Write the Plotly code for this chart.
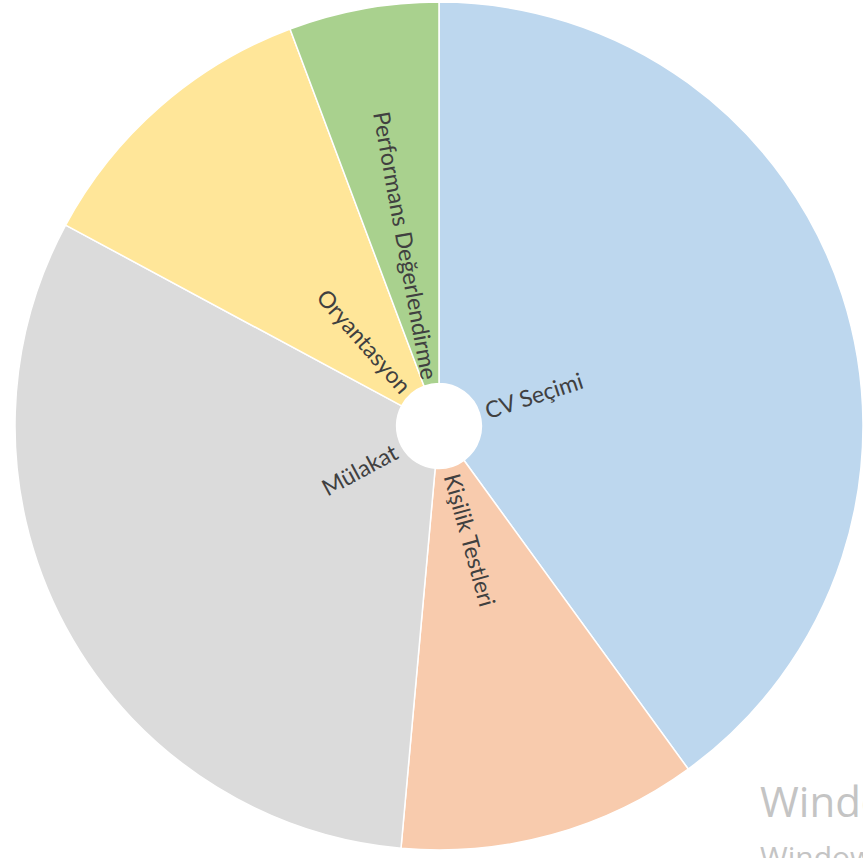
import math
import plotly.graph_objects as go

# Survey answers: which step of the hiring process is used
labels = ["CV Seçimi", "Kişilik Testleri", "Mülakat", "Oryantasyon", "Performans Değerlendirme"]
values = [14, 4, 11, 4, 2]
colors = ["#BDD7EE", "#F8CBAD", "#DBDBDB", "#FFE699", "#A9D18E"]

W, H = 863, 858
M_L, M_R, M_T, M_B = 15, 0, 2, 8
PW, PH = W - M_L - M_R, H - M_T - M_B
RADIUS = min(PW, PH) / 2
CX, CY = M_L + PW / 2, M_T + PH / 2
HOLE = 0.10
LABEL_FS = 23

# Approximate Lato advance widths (in em) used to centre the radial labels
_NARROW = {"i": 0.24, "l": 0.24, "ı": 0.24, " ": 0.25, "t": 0.35, "f": 0.32, "r": 0.37,
           "s": 0.42, "ş": 0.42, "c": 0.46, "ç": 0.46, "m": 0.83, "M": 0.85, "O": 0.75,
           "D": 0.72, "C": 0.65, "V": 0.67, "K": 0.63, "P": 0.58, "T": 0.55, "S": 0.5}


def text_width(s, size):
    return sum(_NARROW.get(ch, 0.52) for ch in s) * size


fig = go.Figure(
    go.Pie(
        labels=labels,
        values=values,
        hole=HOLE,
        sort=False,
        direction="clockwise",
        rotation=0,
        marker=dict(colors=colors, line=dict(color="white", width=1.5)),
        textinfo="none",
        hoverinfo="label+value+percent",
        showlegend=False,
    )
)


def to_paper(px, py):
    return (px - M_L) / PW, (H - M_B - py) / PH


# Radial labels starting just outside the hole
total = sum(values)
cum = 0.0
r_in = RADIUS * HOLE + 7
for lab, v in zip(labels, values):
    mid = (cum + v / 2) / total * 360.0
    cum += v
    rc = r_in + text_width(lab, LABEL_FS) / 2
    rad = math.radians(mid)
    px = CX + rc * math.sin(rad)
    py = CY - rc * math.cos(rad)
    ang = mid - 90 if mid <= 180 else mid - 270
    xp, yp = to_paper(px, py)
    fig.add_annotation(
        x=xp, y=yp, xref="paper", yref="paper",
        text=lab, showarrow=False, textangle=ang,
        xanchor="center", yanchor="middle",
        font=dict(family="Lato", size=LABEL_FS, color="#404040"),
    )

# Activation notice in the lower right corner
x0, _ = to_paper(758, 0)
_, y1 = to_paper(0, 800)
_, y2 = to_paper(0, 856)
fig.add_annotation(
    x=x0, y=y1, xref="paper", yref="paper", text="Windows'u Etkinleştir",
    showarrow=False, xanchor="left", yanchor="middle",
    font=dict(family="Open Sans", size=42, color="#c4c4c4"),
)
fig.add_annotation(
    x=x0, y=y2, xref="paper", yref="paper",
    text="Windows'u etkinleştirmek için Ayarlar'a gidin.",
    showarrow=False, xanchor="left", yanchor="middle",
    font=dict(family="Open Sans", size=30, color="#c4c4c4"),
)

fig.update_layout(
    width=W, height=H,
    margin=dict(l=M_L, r=M_R, t=M_T, b=M_B, pad=0),
    paper_bgcolor="white", plot_bgcolor="white",
)

fig.write_html("out.html")
